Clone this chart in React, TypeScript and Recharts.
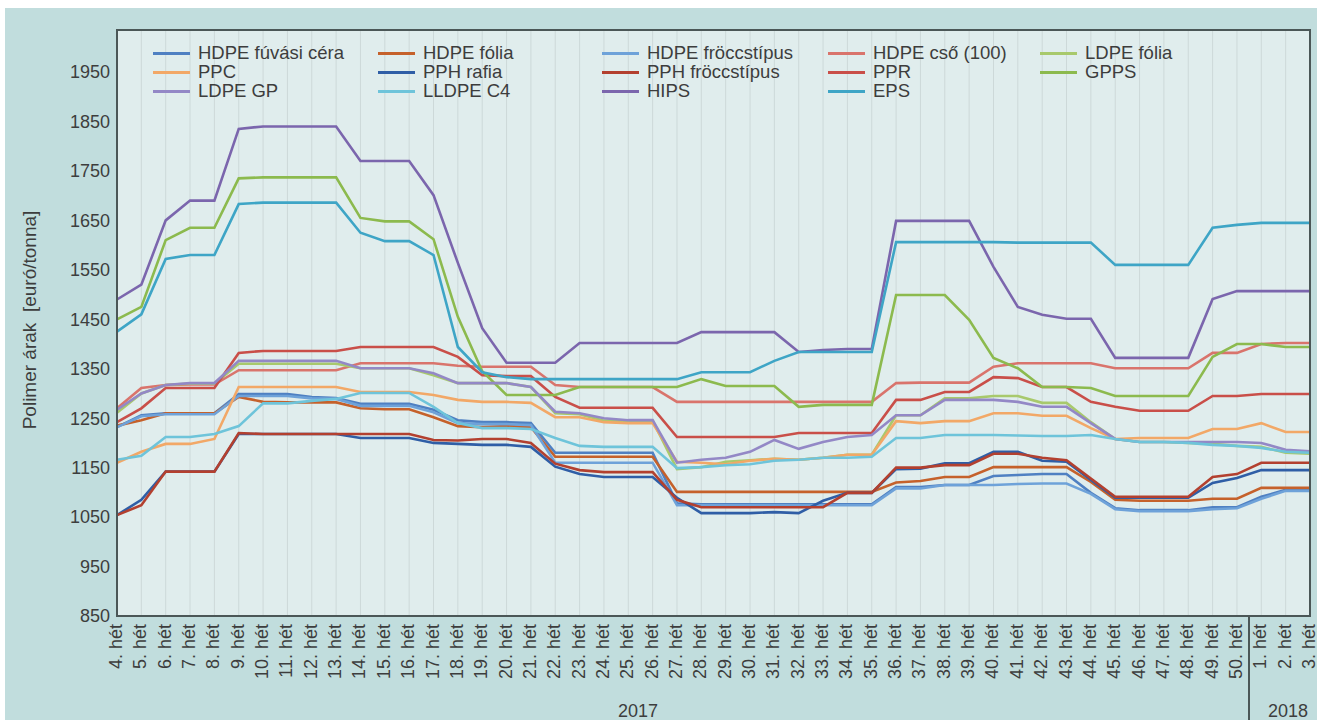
import React from 'react';
import { LineChart, Line, XAxis, YAxis, CartesianGrid } from 'recharts';

const weeks = [
  '4. hét', '5. hét', '6. hét', '7. hét', '8. hét', '9. hét', '10. hét', '11. hét', '12. hét', '13. hét',
  '14. hét', '15. hét', '16. hét', '17. hét', '18. hét', '19. hét', '20. hét', '21. hét', '22. hét', '23. hét',
  '24. hét', '25. hét', '26. hét', '27. hét', '28. hét', '29. hét', '30. hét', '31. hét', '32. hét', '33. hét',
  '34. hét', '35. hét', '36. hét', '37. hét', '38. hét', '39. hét', '40. hét', '41. hét', '42. hét', '43. hét',
  '44. hét', '45. hét', '46. hét', '47. hét', '48. hét', '49. hét', '50. hét', '1. hét', '2. hét', '3. hét',
];

const yTicks = [850, 950, 1050, 1150, 1250, 1350, 1450, 1550, 1650, 1750, 1850, 1950];

const hdpeFuvasi = [1232, 1256, 1260, 1260, 1260, 1299, 1299, 1299, 1293, 1291, 1279, 1279, 1279, 1267, 1246, 1242, 1242, 1240, 1180, 1180, 1180, 1180, 1180, 1078, 1076, 1076, 1076, 1076, 1076, 1076, 1076, 1076, 1111, 1111, 1115, 1115, 1133, 1135, 1137, 1137, 1099, 1068, 1064, 1064, 1064, 1070, 1070, 1091, 1105, 1105];
const hdpeFolia = [1235, 1246, 1260, 1260, 1260, 1293, 1283, 1282, 1282, 1282, 1270, 1268, 1268, 1252, 1234, 1232, 1234, 1232, 1172, 1172, 1172, 1172, 1172, 1101, 1101, 1101, 1101, 1101, 1101, 1101, 1101, 1101, 1120, 1123, 1131, 1131, 1151, 1151, 1151, 1151, 1121, 1085, 1083, 1083, 1083, 1087, 1087, 1109, 1109, 1109];
const hdpeFroccs = [1232, 1254, 1258, 1258, 1258, 1295, 1295, 1295, 1290, 1289, 1275, 1275, 1275, 1262, 1240, 1238, 1238, 1236, 1160, 1160, 1160, 1160, 1160, 1074, 1074, 1074, 1074, 1074, 1074, 1074, 1074, 1074, 1108, 1108, 1115, 1115, 1115, 1117, 1118, 1118, 1097, 1066, 1062, 1062, 1062, 1066, 1068, 1087, 1103, 1103];
const hdpeCso = [1270, 1311, 1317, 1318, 1318, 1347, 1347, 1347, 1347, 1347, 1361, 1361, 1361, 1361, 1356, 1354, 1354, 1354, 1317, 1313, 1313, 1313, 1313, 1283, 1283, 1283, 1283, 1283, 1283, 1283, 1283, 1283, 1321, 1322, 1322, 1322, 1354, 1361, 1361, 1361, 1361, 1351, 1351, 1351, 1351, 1382, 1382, 1400, 1402, 1402];
const ldpeFolia = [1261, 1300, 1317, 1320, 1320, 1360, 1360, 1360, 1360, 1360, 1351, 1351, 1351, 1337, 1321, 1321, 1321, 1313, 1260, 1258, 1245, 1245, 1245, 1147, 1151, 1162, 1165, 1168, 1166, 1170, 1176, 1176, 1256, 1256, 1290, 1290, 1295, 1295, 1281, 1281, 1242, 1208, 1202, 1202, 1200, 1198, 1194, 1192, 1180, 1178];
const ppc = [1160, 1182, 1198, 1198, 1208, 1313, 1313, 1313, 1313, 1313, 1303, 1303, 1303, 1297, 1287, 1283, 1283, 1281, 1252, 1252, 1242, 1240, 1240, 1162, 1160, 1157, 1164, 1168, 1166, 1170, 1176, 1176, 1244, 1240, 1244, 1244, 1260, 1260, 1255, 1255, 1230, 1208, 1210, 1210, 1210, 1228, 1228, 1240, 1222, 1222];
const pphRafia = [1054, 1085, 1142, 1142, 1142, 1218, 1218, 1218, 1218, 1218, 1210, 1210, 1210, 1200, 1198, 1196, 1196, 1192, 1152, 1137, 1131, 1131, 1131, 1089, 1058, 1058, 1058, 1060, 1058, 1083, 1099, 1099, 1147, 1148, 1159, 1159, 1182, 1182, 1164, 1162, 1125, 1089, 1089, 1089, 1089, 1119, 1129, 1145, 1145, 1145];
const pphFroccs = [1054, 1074, 1142, 1142, 1142, 1220, 1218, 1218, 1218, 1218, 1218, 1218, 1218, 1206, 1205, 1208, 1208, 1200, 1158, 1145, 1141, 1141, 1141, 1085, 1070, 1070, 1070, 1070, 1070, 1070, 1099, 1099, 1150, 1150, 1155, 1155, 1178, 1178, 1170, 1165, 1128, 1091, 1091, 1091, 1091, 1131, 1137, 1160, 1160, 1160];
const ppr = [1242, 1270, 1311, 1311, 1311, 1382, 1386, 1386, 1386, 1386, 1394, 1394, 1394, 1394, 1374, 1337, 1335, 1335, 1293, 1271, 1271, 1271, 1271, 1212, 1212, 1212, 1212, 1212, 1220, 1220, 1220, 1220, 1287, 1287, 1303, 1303, 1333, 1331, 1313, 1313, 1283, 1273, 1265, 1265, 1265, 1295, 1295, 1299, 1299, 1299];
const gpps = [1450, 1475, 1610, 1635, 1635, 1735, 1737, 1737, 1737, 1737, 1655, 1648, 1648, 1612, 1455, 1345, 1297, 1297, 1297, 1313, 1313, 1313, 1313, 1313, 1329, 1315, 1315, 1315, 1273, 1277, 1277, 1277, 1499, 1499, 1499, 1449, 1372, 1351, 1313, 1313, 1311, 1295, 1295, 1295, 1295, 1374, 1400, 1400, 1394, 1394];
const ldpeGp = [1267, 1300, 1317, 1321, 1321, 1366, 1366, 1366, 1366, 1366, 1351, 1351, 1351, 1341, 1321, 1321, 1321, 1313, 1263, 1260, 1250, 1246, 1246, 1160, 1166, 1170, 1182, 1206, 1188, 1202, 1212, 1216, 1256, 1256, 1287, 1287, 1287, 1283, 1273, 1273, 1240, 1208, 1202, 1202, 1202, 1202, 1202, 1200, 1186, 1183];
const lldpeC4 = [1166, 1174, 1212, 1212, 1218, 1234, 1280, 1280, 1285, 1289, 1301, 1301, 1301, 1273, 1240, 1230, 1230, 1228, 1210, 1194, 1192, 1192, 1192, 1149, 1151, 1155, 1157, 1164, 1166, 1170, 1170, 1172, 1210, 1210, 1216, 1216, 1216, 1215, 1214, 1214, 1216, 1208, 1202, 1202, 1200, 1196, 1194, 1190, 1182, 1180];
const hips = [1490, 1520, 1650, 1690, 1690, 1835, 1840, 1840, 1840, 1840, 1770, 1770, 1770, 1701, 1564, 1432, 1362, 1362, 1362, 1402, 1402, 1402, 1402, 1402, 1424, 1424, 1424, 1424, 1384, 1388, 1390, 1390, 1649, 1649, 1649, 1649, 1556, 1475, 1459, 1451, 1451, 1372, 1372, 1372, 1372, 1491, 1507, 1507, 1507, 1507];
const eps = [1425, 1460, 1572, 1580, 1580, 1683, 1686, 1686, 1686, 1686, 1625, 1608, 1608, 1580, 1394, 1343, 1333, 1329, 1329, 1329, 1329, 1329, 1329, 1329, 1343, 1343, 1343, 1366, 1384, 1384, 1384, 1384, 1606, 1606, 1606, 1606, 1606, 1605, 1605, 1605, 1605, 1560, 1560, 1560, 1560, 1635, 1641, 1645, 1645, 1645];

const seriesNames = [
  'HDPE fúvási céra', 'HDPE fólia', 'HDPE fröccstípus', 'HDPE cső (100)', 'LDPE fólia',
  'PPC', 'PPH rafia', 'PPH fröccstípus', 'PPR', 'GPPS',
  'LDPE GP', 'LLDPE C4', 'HIPS', 'EPS',
];
const seriesValues = [
  hdpeFuvasi, hdpeFolia, hdpeFroccs, hdpeCso, ldpeFolia,
  ppc, pphRafia, pphFroccs, ppr, gpps,
  ldpeGp, lldpeC4, hips, eps,
];
const seriesColors = [
  '#4f80c2', '#c5612b', '#6ea2d9', '#d9746c', '#a8c96c',
  '#f2a867', '#2f5ea6', '#b3402f', '#c94f49', '#8cba4e',
  '#9388c6', '#6ec4da', '#7b66ad', '#3ea5c6',
];

const data = weeks.map((w, i) => {
  const row: Record<string, any> = { week: w };
  seriesNames.forEach((n, s) => { row['s' + s] = seriesValues[s][i]; });
  return row;
});

const FONT = '"Liberation Sans", Arial, sans-serif';
const TEXT = '#3d3d3d';
const W = 1312;
const H = 712;
const M = { top: 22, right: 7, left: 0, bottom: 0 };
const Y_W = 112;
const X_H = 104;
const plotLeft = M.left + Y_W;
const plotTop = M.top;
const plotW = W - M.right - plotLeft;
const plotH = H - M.bottom - X_H - plotTop;
const step = plotW / (weeks.length - 1);

const WeekTick = (props: any) => {
  const { x, y, payload } = props;
  return (
    <text
      transform={`translate(${x + 5},${y}) rotate(-90)`}
      textAnchor="end"
      fill={TEXT}
      fontSize={18}
      fontFamily={FONT}
    >
      {payload.value}
    </text>
  );
};

const legendCols = [148, 373, 597, 823, 1035];
const legendRows = [45, 64, 83];

export default function App() {
  const sepX = plotLeft + (weeks.indexOf('1. hét') - 0.5) * step;
  return (
    <div
      style={{
        position: 'absolute', left: 5, top: 8, width: W, height: H,
        background: '#c1dddd', fontFamily: FONT, overflow: 'hidden',
      }}
    >
      <LineChart width={W} height={H} data={data} margin={M}>
        <CartesianGrid horizontal={false} vertical stroke="#cdd9d9" fill="#e0eded" strokeWidth={1} />
        <XAxis
          dataKey="week"
          interval={0}
          tick={<WeekTick />}
          tickLine={false}
          axisLine={false}
          height={X_H}
        />
        <YAxis
          domain={[850, 2035]}
          ticks={yTicks}
          type="number"
          allowDataOverflow
          width={Y_W}
          tickLine={false}
          axisLine={false}
          tickMargin={1}
          tick={{ fill: TEXT, fontSize: 18, fontFamily: FONT }}
        />
        {seriesNames.map((n, s) => (
          <Line
            key={n}
            name={n}
            dataKey={'s' + s}
            type="linear"
            stroke={seriesColors[s]}
            strokeWidth={2.6}
            dot={false}
            activeDot={false}
            isAnimationActive={false}
          />
        ))}
      </LineChart>

      <div
        style={{
          position: 'absolute', left: plotLeft - 1, top: plotTop - 1,
          width: plotW + 2, height: plotH + 2, border: '2px solid #4b5757',
          boxSizing: 'border-box', pointerEvents: 'none',
        }}
      />

      {seriesNames.map((n, s) => {
        const col = s % 5;
        const row = Math.floor(s / 5);
        return (
          <div
            key={n}
            style={{
              position: 'absolute', left: legendCols[col], top: legendRows[row] - 11,
              height: 22, display: 'flex', alignItems: 'center', whiteSpace: 'nowrap',
            }}
          >
            <div style={{ width: 37, height: 3, background: seriesColors[s], marginRight: 8 }} />
            <span style={{ fontSize: 18.5, color: TEXT, lineHeight: '22px' }}>{n}</span>
          </div>
        );
      })}

      <div
        style={{
          position: 'absolute', left: 25, top: 312, whiteSpace: 'pre',
          transform: 'translate(-50%, -50%) rotate(-90deg)', fontSize: 19, color: TEXT,
        }}
      >
        {'Polimer árak  [euró/tonna]'}
      </div>

      <div
        style={{
          position: 'absolute', left: sepX - 1, top: plotTop + plotH, width: 2,
          height: H - (plotTop + plotH), background: '#4b5757',
        }}
      />
      <div style={{ position: 'absolute', left: 633, top: 703, transform: 'translate(-50%, -50%)', fontSize: 18, color: TEXT }}>2017</div>
      <div style={{ position: 'absolute', left: 1283, top: 703, transform: 'translate(-50%, -50%)', fontSize: 18, color: TEXT }}>2018</div>
    </div>
  );
}
